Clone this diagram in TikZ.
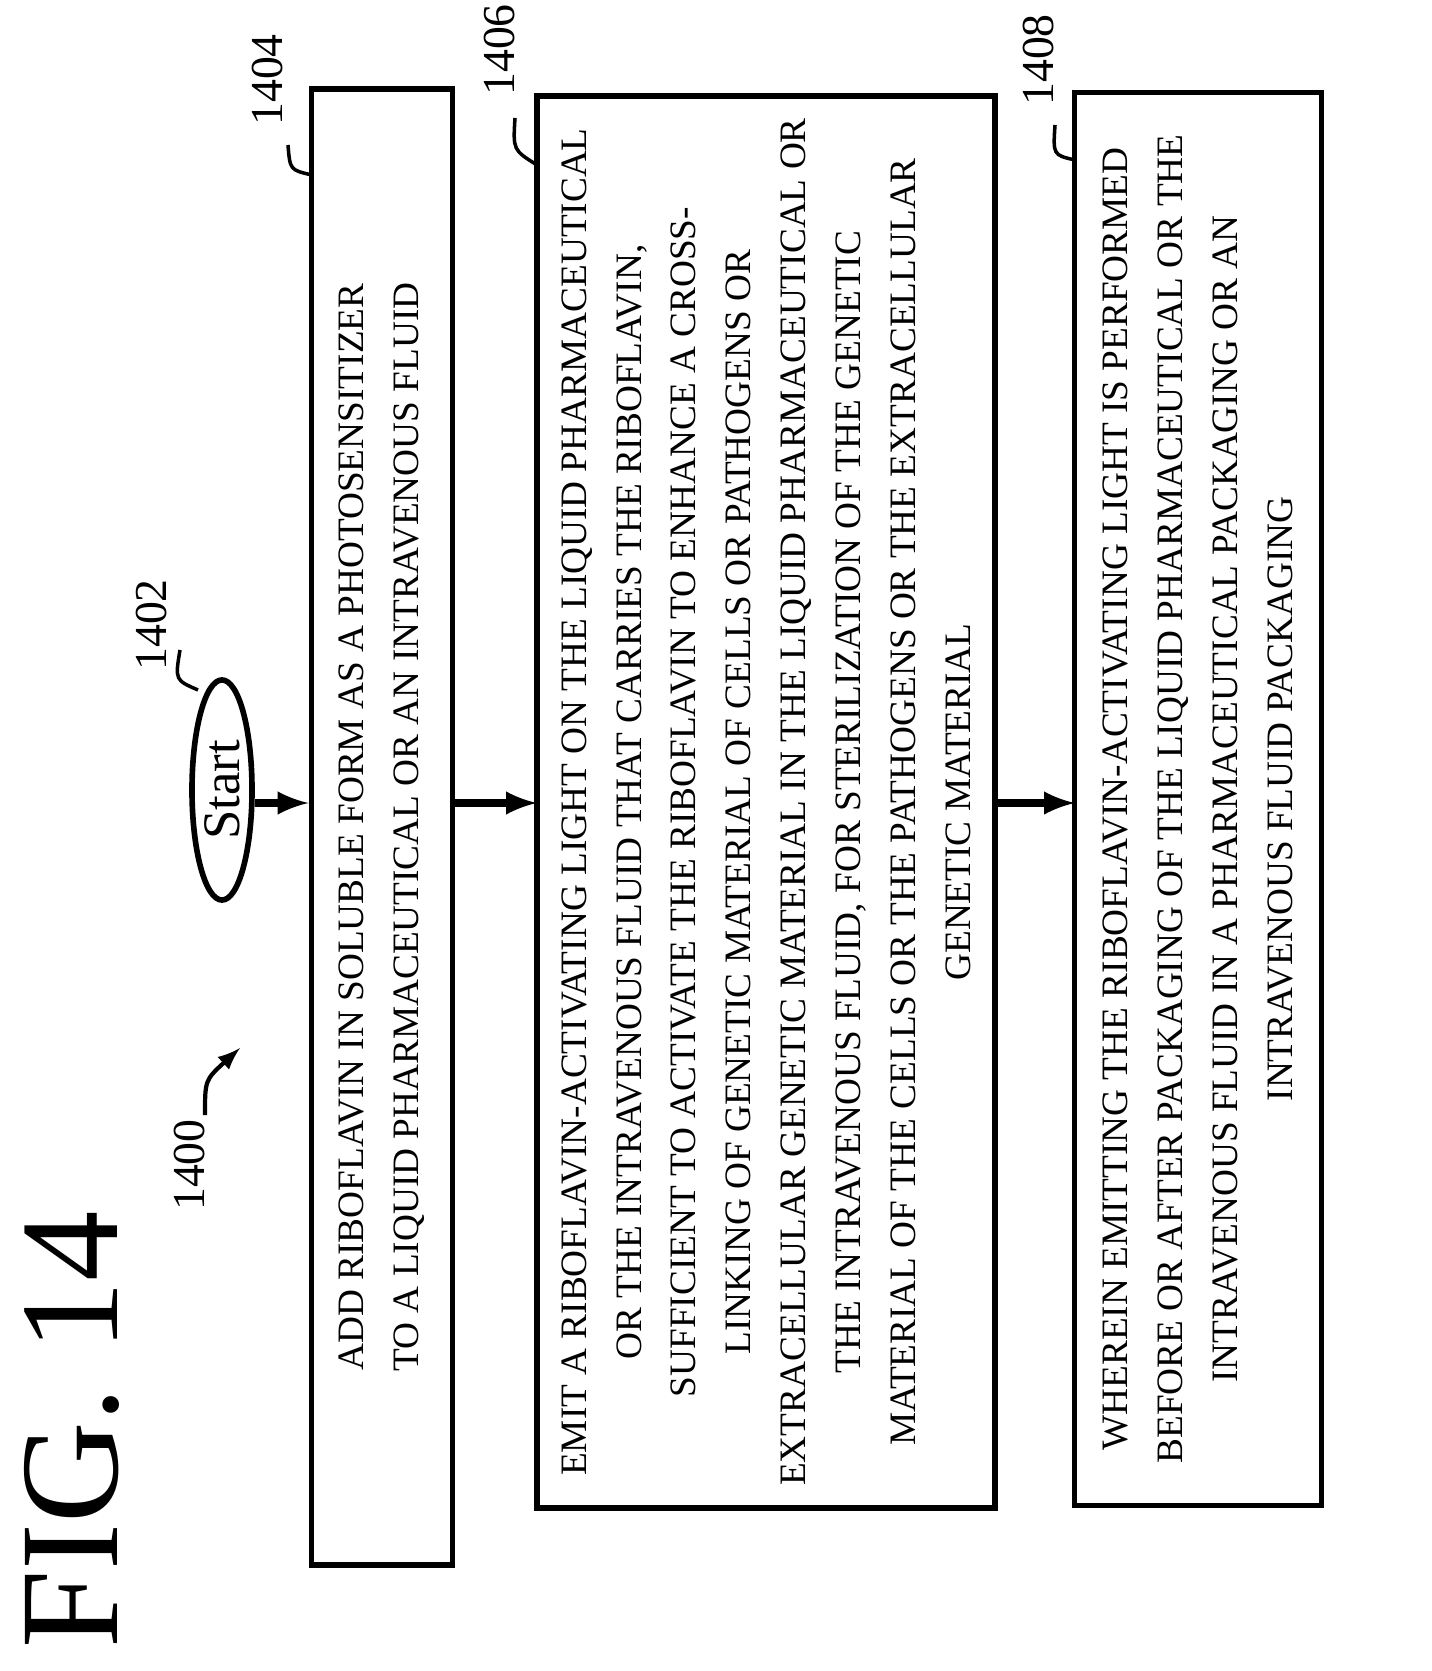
\documentclass[tikz,border=0pt]{standalone}
\usepackage{fontspec}
\setmainfont{Liberation Serif}
\usetikzlibrary{shapes.geometric}
\begin{document}
\begin{tikzpicture}[x=0.01cm,y=-0.01cm,
    stepbox/.style={draw, line width=1.6pt, rotate=90, align=center, inner sep=0pt,
        font=\fontsize{10.6}{15.6}\selectfont},
    reflabel/.style={rotate=90, font=\fontsize{13}{15}\selectfont},
    flow/.style={-latex, line width=2pt}]
    \useasboundingbox (0,0) rectangle (1431,1671);

    \node[rotate=90, font=\fontsize{40}{46}\selectfont] (fig) at (72,1430) {FIG. 14};

    \node[draw, ellipse, line width=1.6pt, rotate=90, minimum width=2.2cm, minimum height=0.6cm,
        inner sep=0pt, font=\fontsize{15}{18}\selectfont] (start) at (222,790) {Start};
    \node[stepbox, minimum width=14.75cm, minimum height=1.41cm] (s1404) at (382,827)
        {ADD RIBOFLAVIN IN SOLUBLE FORM AS A PHOTOSENSITIZER\\
         TO A LIQUID PHARMACEUTICAL OR AN INTRAVENOUS FLUID};
    \node[stepbox, minimum width=14.11cm, minimum height=4.58cm] (s1406) at (766,802)
        {EMIT A RIBOFLAVIN-ACTIVATING LIGHT ON THE LIQUID PHARMACEUTICAL\\
         OR THE INTRAVENOUS FLUID THAT CARRIES THE RIBOFLAVIN,\\
         SUFFICIENT TO ACTIVATE THE RIBOFLAVIN TO ENHANCE A CROSS-\\
         LINKING OF GENETIC MATERIAL OF CELLS OR PATHOGENS OR\\
         EXTRACELLULAR GENETIC MATERIAL IN THE LIQUID PHARMACEUTICAL OR\\
         THE INTRAVENOUS FLUID, FOR STERILIZATION OF THE GENETIC\\
         MATERIAL OF THE CELLS OR THE PATHOGENS OR THE EXTRACELLULAR\\
         GENETIC MATERIAL};
    \node[stepbox, minimum width=14.12cm, minimum height=2.47cm] (s1408) at (1198,799)
        {WHEREIN EMITTING THE RIBOFLAVIN-ACTIVATING LIGHT IS PERFORMED\\
         BEFORE OR AFTER PACKAGING OF THE LIQUID PHARMACEUTICAL OR THE\\
         INTRAVENOUS FLUID IN A PHARMACEUTICAL PACKAGING OR AN\\
         INTRAVENOUS FLUID PACKAGING};

    % reference labels
    \node[reflabel] (l1400) at (190,1165) {1400};
    \node[reflabel] (l1402) at (152,625) {1402};
    \node[reflabel] (l1404) at (268,80) {1404};
    \node[reflabel] (l1406) at (500,50) {1406};
    \node[reflabel] (l1408) at (1038,60) {1408};
    \coordinate (c1402) at (198,690);
    \coordinate (c1404) at (312,175);
    \coordinate (c1406) at (537,165);
    \coordinate (c1408) at (1075,160);
    \draw[line width=1pt] (180,650) .. controls (175,680) .. (c1402);
    \draw[line width=1pt] (288,145) .. controls (290,170) .. (c1404);
    \draw[line width=1pt] (515,118) .. controls (513,150) .. (c1406);
    \draw[line width=1pt] (1055,125) .. controls (1053,155) .. (c1408);
    \coordinate (c1400) at (240,1048);
    \draw[-latex, line width=1.2pt] (205,1115) .. controls (205,1080) .. (c1400);

    \draw[flow] (start.south) ++(0,13) -- (s1404.north |- 0,803);
    \draw[flow] (453,803) -- (537,803);
    \draw[flow] (995,803) -- (1075,803);
\end{tikzpicture}
\end{document}
